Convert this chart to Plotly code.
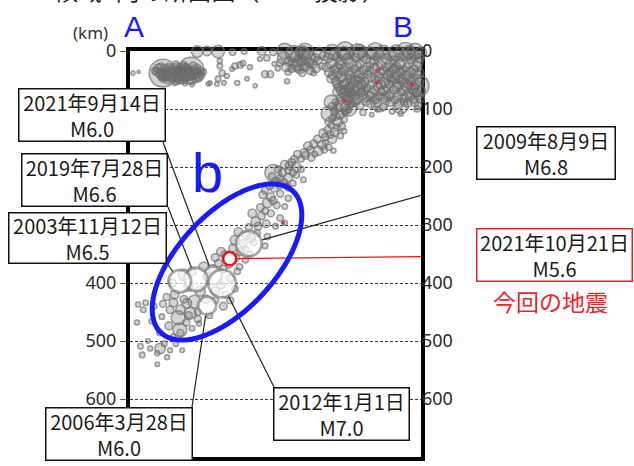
import numpy as np
import plotly.graph_objects as go

# hypocentres: (distance along A-B [km], depth [km], magnitude)
shallow_west = [
    (8, 38, 3.0), (18, 36, 2.6), (46, 34, 4.0), (52, 30, 4.5), (54, 38, 4.2), (58, 40, 4.8),
    (60, 38, 7.0), (60, 48, 4.0), (66, 44, 4.4), (68, 36, 4.8), (70, 28, 4.2), (72, 44, 4.6),
    (76, 48, 4.0), (78, 36, 4.4), (82, 24, 4.2), (84, 30, 4.8), (86, 46, 4.2), (88, 36, 5.0),
    (90, 50, 4.1), (92, 42, 5.8), (92, 38, 4.6), (96, 24, 4.0), (98, 29, 4.4), (100, 44, 4.5),
    (104, 40, 5.2), (106, 34, 4.3), (108, 34, 6.9), (108, 48, 4.6), (112, 26, 4.3), (114, 40, 4.6),
    (118, 30, 4.4), (120, 38, 4.5), (122, 46, 4.2), (126, 42, 4.0), (130, 36, 3.6), (80, 56, 3.0),
    (98, 56, 3.2), (110, 58, 3.0),
    (50, 36, 4.4), (56, 28, 4.4), (62, 42, 4.6), (64, 30, 4.4), (70, 38, 4.6), (74, 32, 4.4),
    (80, 42, 4.6), (82, 34, 4.4), (86, 40, 4.4), (90, 30, 4.6), (94, 46, 4.4), (96, 34, 4.6),
    (102, 30, 4.4), (102, 38, 4.6), (110, 42, 4.4), (112, 34, 4.6), (116, 46, 4.4), (118, 36, 4.4),
    (124, 34, 4.2), (68, 50, 4.2), (84, 52, 4.0), (58, 44, 4.4),
]
shallow_mid = [
    (158, 26, 3.6), (162, 38, 3.8), (158, 17, 3.4), (155, 48, 3.6), (165, 55, 3.2), (184, 26, 3.8),
    (193, 24, 3.8), (198, 21, 3.6), (170, 43, 3.4), (153, 57, 3.2), (138, 57, 3.0), (188, 55, 3.4),
    (205, 48, 3.2), (239, 12, 3.8), (236, 40, 4.0), (245, 40, 4.0), (274, 52, 3.4), (141, 55, 3.0),
    (179, 31, 3.2), (210, 28, 3.4), (219, 60, 3.0), (227, 14, 3.2), (262, 20, 4.0), (268, 12, 5.2),
    (272, 28, 4.4), (278, 18, 4.6), (282, 30, 4.2), (288, 10, 4.8), (290, 24, 5.0), (296, 32, 4.4),
    (300, 16, 4.6), (306, 26, 4.8), (310, 12, 5.5), (314, 34, 4.2), (318, 22, 4.6), (324, 30, 4.4),
    (328, 16, 4.2), (334, 26, 4.0), (276, 36, 3.8), (300, 38, 4.0), (320, 38, 3.6), (286, 5, 5.8),
    (304, 4, 5.0), (258, 30, 3.4), (252, 22, 3.2),
    (284, 20, 4.4), (294, 14, 4.4), (302, 26, 4.4), (312, 20, 4.6), (292, 30, 4.2), (322, 12, 4.4),
]
surface_row = [
    (119, 1, 5.0), (136, 0, 4.6), (155, 1, 5.2), (230, 0, 4.4), (270, 0, 5.6), (305, 1, 5.8),
    (374, 0, 6.0), (400, 1, 5.4), (426, 0, 5.8), (478, 1, 6.0), (495, 0, 5.6), (180, 2, 3.8),
    (200, 1, 3.6), (250, 2, 4.0),
]
shallow_east = [
    (300, 3, 5.4), (330, 4, 5.0), (352, 2, 5.6), (372, 3, 5.2), (395, 2, 5.8), (418, 3, 5.0),
    (440, 2, 5.4), (462, 3, 5.6), (484, 2, 5.2), (505, 3, 5.0),
    (345, 12, 4.6), (360, 10, 4.4), (378, 14, 4.8), (392, 11, 4.4), (410, 13, 4.6), (428, 10, 4.2),
    (446, 14, 4.8), (470, 11, 4.4), (488, 13, 4.6), (503, 12, 4.4),
    (350, 22, 4.6), (366, 24, 4.4), (384, 21, 4.8), (400, 23, 4.2), (418, 20, 4.6), (436, 24, 4.4),
    (452, 21, 4.6), (468, 23, 4.8), (484, 22, 4.4), (500, 20, 4.6), (510, 26, 4.2),
    (356, 32, 4.4), (372, 34, 4.6), (390, 31, 4.2), (406, 33, 4.4), (424, 30, 4.8), (440, 34, 4.4),
    (458, 31, 4.6), (474, 33, 4.2), (492, 32, 4.6), (506, 34, 4.4),
    (352, 42, 4.2), (368, 44, 4.6), (382, 41, 4.4), (398, 43, 4.8), (414, 40, 4.2), (432, 44, 4.4),
    (448, 41, 4.6), (462, 43, 4.2), (478, 42, 4.4), (496, 40, 4.8), (508, 44, 4.2),
    (358, 52, 4.4), (376, 54, 4.2), (392, 51, 4.6), (408, 53, 4.4), (426, 50, 4.2), (442, 54, 4.6),
    (456, 51, 4.4), (472, 53, 4.2), (488, 52, 4.6), (502, 54, 4.4),
    (362, 62, 4.2), (380, 64, 4.4), (396, 61, 4.6), (412, 63, 4.2), (430, 60, 4.4), (446, 64, 4.2),
    (464, 61, 4.6), (480, 63, 4.4), (494, 62, 4.2), (508, 64, 4.6),
    (370, 72, 4.4), (386, 74, 4.2), (402, 71, 4.4), (420, 73, 4.6), (436, 70, 4.2), (452, 74, 4.4),
    (470, 71, 4.2), (484, 73, 4.6), (498, 72, 4.4), (510, 76, 4.2),
    (378, 82, 4.2), (394, 84, 4.4), (410, 81, 4.2), (426, 83, 4.4), (444, 80, 4.6), (460, 84, 4.2),
    (476, 81, 4.4), (492, 83, 4.2), (504, 82, 4.4),
    (384, 92, 4.0), (400, 94, 4.2), (418, 91, 4.4), (440, 96, 4.0), (466, 93, 4.2), (482, 90, 4.4),
    (500, 94, 4.0), (380, 102, 3.6), (405, 106, 3.8), (430, 101, 3.4), (455, 104, 3.6),
    (498, 100, 3.8), (420, 110, 3.2), (470, 108, 3.4),
    (392, 60, 6.2), (462, 40, 6.0), (500, 60, 6.4), (434, 89, 6.0), (350, 88, 5.4), (470, 95, 5.6),
    (338, 8, 4.6), (356, 6, 4.8), (366, 16, 4.6), (382, 6, 4.4), (404, 8, 4.8), (424, 16, 4.4),
    (434, 6, 4.6), (452, 8, 4.8), (458, 16, 4.4), (476, 6, 4.6), (494, 8, 4.8), (510, 16, 4.4),
    (342, 28, 4.4), (360, 28, 4.6), (376, 27, 4.4), (394, 26, 4.6), (412, 27, 4.4), (430, 27, 4.6),
    (446, 28, 4.4), (462, 27, 4.6), (480, 28, 4.4), (498, 27, 4.6),
    (346, 37, 4.4), (362, 38, 4.6), (380, 36, 4.4), (398, 37, 4.6), (416, 36, 4.4), (434, 38, 4.6),
    (450, 36, 4.4), (468, 37, 4.6), (486, 36, 4.4), (502, 38, 4.6),
    (350, 48, 4.4), (366, 47, 4.6), (384, 48, 4.4), (400, 47, 4.6), (418, 46, 4.4), (434, 48, 4.6),
    (452, 47, 4.4), (470, 48, 4.6), (486, 47, 4.4), (506, 48, 4.6),
    (360, 57, 4.4), (372, 58, 4.6), (388, 57, 4.4), (404, 58, 4.6), (420, 57, 4.4), (436, 58, 4.6),
    (450, 57, 4.4), (466, 58, 4.6), (482, 57, 4.4), (496, 58, 4.6),
    (366, 67, 4.4), (374, 68, 4.6), (390, 67, 4.4), (406, 68, 4.6), (424, 67, 4.4), (440, 68, 4.6),
    (458, 67, 4.4), (474, 68, 4.6), (490, 67, 4.4), (504, 68, 4.6),
    (374, 78, 4.4), (390, 78, 4.6), (404, 77, 4.4), (418, 78, 4.6), (434, 77, 4.4), (450, 78, 4.6),
    (466, 77, 4.4), (486, 78, 4.6), (500, 77, 4.4),
    (392, 88, 4.4), (410, 87, 4.4), (430, 90, 4.2), (452, 88, 4.4), (476, 88, 4.2), (494, 88, 4.4),
    (508, 90, 4.2),
]
slab = [
    (360, 70, 4.4), (372, 66, 4.0), (382, 72, 4.6), (366, 80, 4.2), (378, 84, 4.8), (358, 88, 4.0),
    (370, 92, 5.6), (386, 90, 4.2), (352, 96, 4.4), (380, 98, 5.8),
    (356, 104, 4.2), (366, 110, 4.4), (374, 106, 3.8), (352, 116, 4.0), (362, 122, 4.6),
    (372, 118, 4.0), (350, 128, 3.8), (368, 130, 4.2), (346, 108, 5.6),
    (344, 136, 4.2), (356, 140, 4.4), (366, 146, 3.8), (340, 148, 4.0), (352, 152, 4.4), (372, 138, 3.6),
    (320, 160, 4.2), (334, 162, 4.4), (346, 166, 3.8), (314, 170, 4.0), (328, 172, 4.6),
    (340, 158, 3.6), (354, 172, 3.4),
    (292, 178, 4.2), (304, 176, 4.4), (316, 184, 4.0), (298, 186, 3.8), (322, 178, 3.6),
    (270, 196, 4.4), (282, 192, 4.2), (290, 200, 4.6), (276, 206, 4.0), (298, 204, 3.8),
    (266, 210, 4.2), (250, 210, 5.8),
    (248, 216, 4.0), (262, 220, 4.2), (276, 218, 4.4), (290, 214, 3.8), (302, 222, 3.6), (254, 224, 4.0),
    (244, 232, 4.2), (262, 230, 4.4), (276, 236, 3.8), (236, 240, 4.0),
    (232, 248, 4.2), (246, 252, 4.4), (262, 246, 4.0), (276, 254, 3.8), (240, 262, 4.6),
    (256, 266, 4.0), (228, 270, 4.2), (270, 268, 3.6),
    (214, 280, 4.4), (230, 284, 4.2), (246, 280, 4.0), (262, 288, 3.8), (220, 294, 4.6),
    (238, 298, 4.2), (254, 302, 3.6), (208, 304, 4.0), (270, 296, 3.4),
    (190, 312, 4.4), (204, 318, 4.2), (222, 314, 4.0), (240, 320, 3.8), (184, 326, 4.6),
    (198, 332, 4.2), (216, 330, 4.0), (236, 336, 3.6), (180, 340, 4.2), (202, 342, 4.0),
    (160, 346, 4.4), (150, 356, 4.2), (168, 352, 4.6), (186, 356, 4.0), (202, 360, 3.8),
    (156, 366, 4.2), (174, 368, 4.0), (192, 372, 3.8), (146, 376, 4.4), (210, 350, 3.6),
    (130, 372, 4.6), (110, 380, 4.4), (96, 386, 5.0), (76, 400, 4.2), (104, 406, 4.6),
    (124, 414, 4.8), (150, 414, 4.4), (168, 420, 4.0), (184, 410, 3.8), (80, 420, 4.4),
    (96, 428, 4.2), (114, 432, 5.2), (150, 430, 4.0), (164, 440, 4.2), (120, 450, 4.0),
    (90, 446, 4.6), (140, 456, 3.8), (176, 392, 4.2), (188, 380, 3.8),
    (107, 452, 5.0), (89, 481, 5.4), (101, 435, 4.6),
    (362, 96, 4.4), (376, 102, 4.2), (358, 112, 4.4), (346, 122, 4.2), (360, 132, 4.0),
    (336, 142, 4.4), (348, 144, 4.2), (326, 152, 4.2), (338, 170, 4.0), (310, 164, 4.4),
    (306, 180, 4.2), (286, 186, 4.0), (278, 198, 4.4), (284, 210, 4.0), (258, 204, 4.0),
    (268, 226, 4.2), (252, 236, 4.4), (284, 228, 3.8), (250, 258, 4.2), (236, 276, 4.0),
    (224, 302, 4.2), (212, 322, 4.4), (194, 346, 4.2), (180, 360, 4.4), (164, 376, 4.2),
    (138, 390, 4.4), (160, 404, 4.2), (134, 428, 4.4), (176, 430, 4.0), (104, 456, 4.2),
    (120, 462, 4.0), (78, 434, 4.4), (66, 424, 4.0),
]
deep_scatter = [
    (30, 434, 3.6), (44, 440, 3.8), (60, 436, 4.0), (72, 446, 4.2), (86, 460, 5.4), (58, 458, 3.6),
    (100, 468, 4.0), (40, 466, 3.4), (70, 474, 4.2), (110, 478, 3.6), (90, 486, 4.0), (122, 470, 3.4),
    (54, 486, 3.6), (78, 492, 3.4), (17, 437, 3.4), (26, 446, 3.6), (15, 468, 3.4), (21, 509, 3.6),
    (38, 513, 3.4), (50, 521, 3.4), (55, 513, 4.8), (72, 516, 3.4), (93, 516, 3.2), (50, 540, 3.2),
    (24, 524, 3.6), (67, 528, 3.4), (34, 500, 3.2), (62, 505, 3.6), (82, 505, 3.4),
]
recent_small = [(429, 34), (429, 55), (489, 57), (374, 86), (274, 229), (267, 296)]

# labelled large earthquakes: (date, magnitude, distance, depth)
events = [
    ("2021年9月14日", 6.0, 146, 387),
    ("2019年7月28日", 6.6, 117, 394),
    ("2003年11月12日", 6.5, 89, 397),
    ("2006年3月28日", 6.0, 136, 439),
    ("2012年1月1日", 7.0, 162, 401),
    ("2009年8月9日", 6.8, 208, 332),
]
latest = ("2021年10月21日", 5.6, 175, 358)

depth_ticks = [0, 100, 200, 300, 400, 500, 600, 700]

# ---- layout helpers (pixel geometry of the plot frame) ----
W, H = 634, 466
L, R, T, B = 130, 421, 51, 457
XR = [3, 505]
YR = [700, 0]


def msize(m):
    return 2 + 0.075 * m ** 3


def to_px(x, d):
    return L + (x - XR[0]) * (R - L) / (XR[1] - XR[0]), T + d * (B - T) / 700


def to_data(px, py):
    return XR[0] + (px - L) * (XR[1] - XR[0]) / (R - L), (py - T) * 700 / (B - T)


def paper(px, py):
    return (px - L) / (R - L), (B - py) / (B - T)


bg = shallow_west + shallow_mid + surface_row + shallow_east + slab + deep_scatter

fig = go.Figure()
fig.add_trace(go.Scatter(
    x=[p[0] for p in bg], y=[p[1] for p in bg], mode="markers",
    marker=dict(symbol="circle", size=[msize(p[2]) for p in bg],
                color="rgba(100,100,100,0.38)",
                line=dict(width=1.6, color="#707070")),
    cliponaxis=False, hoverinfo="skip", showlegend=False))
fig.add_trace(go.Scatter(
    x=[p[0] for p in recent_small], y=[p[1] for p in recent_small], mode="markers",
    marker=dict(symbol="circle", size=4, color="#d8344e"),
    cliponaxis=False, hoverinfo="skip", showlegend=False))
fig.add_trace(go.Scatter(
    x=[e[2] for e in events], y=[e[3] for e in events], mode="markers",
    marker=dict(symbol="circle", size=[msize(e[1]) for e in events], color="white",
                line=dict(width=2.8, color="#858585")),
    cliponaxis=False, hoverinfo="skip", showlegend=False))
fig.add_trace(go.Scatter(
    x=[latest[2]], y=[latest[3]], mode="markers",
    marker=dict(symbol="circle", size=msize(latest[1]) - 2, color="white",
                line=dict(width=2.6, color="#e8141c")),
    cliponaxis=False, hoverinfo="skip", showlegend=False))
# dummy trace so the right-hand depth axis is drawn
fig.add_trace(go.Scatter(x=[XR[0]], y=[0], yaxis="y2", mode="markers",
                         marker=dict(opacity=0), hoverinfo="skip", showlegend=False))

# label boxes: centre px, width, height, corner where the leader starts
boxes = [
    ((91.5, 115), 148, 54, (163, 142)),
    ((94.5, 180), 147, 54, (168, 207)),
    ((87.5, 238), 159, 52, (166, 262)),
    ((119, 434), 148, 54, (192, 407)),
    ((341.5, 414), 137, 54, (274, 387)),
    ((546, 153), 140, 54, (476, 180)),
]
latest_box = ((554.5, 255), 157, 54, (476, 256))

shapes = []
annotations = []


def leader(ev, box, color):
    cx, cy = to_px(ev[2], ev[3])
    sx, sy = box[3]
    dx, dy = sx - cx, sy - cy
    n = (dx * dx + dy * dy) ** 0.5
    r = msize(ev[1]) / 2 + 1
    ex, ey = cx + dx / n * r, cy + dy / n * r
    x0, y0 = to_data(sx, sy)
    x1, y1 = to_data(ex, ey)
    shapes.append(dict(type="line", xref="x", yref="y", x0=x0, y0=y0, x1=x1, y1=y1,
                       line=dict(color=color, width=1.2), layer="above"))


def label(ev, box, color):
    (bx, by), w, h, _ = box
    px_, py_ = paper(bx, by)
    annotations.append(dict(
        x=px_, y=py_, xref="paper", yref="paper", xanchor="center", yanchor="middle",
        text=f"{ev[0]}<br>M{ev[1]:.1f}", showarrow=False, align="center",
        width=w - 3, height=h - 3, borderpad=0, bgcolor="white",
        bordercolor=color, borderwidth=1.5,
        font=dict(family="Noto Sans CJK JP", size=20, color="#1a1a1a")))


for ev, bx in zip(events, boxes):
    leader(ev, bx, "#222222")
for ev, bx in zip(events, boxes):
    label(ev, bx, "#111111")
leader(latest, latest_box, "#e8141c")
label(latest, latest_box, "#d42a2a")

# blue ellipse around the deep cluster
cx, cy = to_data(227, 262)
a, b = 167, 83
ux, uy = 0.682, -0.731
vx, vy = 0.731, 0.682
t = np.linspace(0, 2 * np.pi, 90)
ex = cx + a * np.cos(t) * ux + b * np.sin(t) * vx
ey = cy + a * np.cos(t) * uy + b * np.sin(t) * vy
path = "M " + " L ".join(f"{x:.2f},{y:.2f}" for x, y in zip(ex, ey)) + " Z"
shapes.append(dict(type="path", xref="x", yref="y", path=path,
                   line=dict(color="#1a1aff", width=5), layer="above"))


def text_at(px, py, txt, size, color, family="Liberation Sans", xanchor="center",
            yanchor="middle"):
    x, y = paper(px, py)
    annotations.append(dict(x=x, y=y, xref="paper", yref="paper", text=txt, showarrow=False,
                            xanchor=xanchor, yanchor=yanchor,
                            font=dict(family=family, size=size, color=color)))


text_at(550, 301, "今回の地震", 23, "#e8262b", family="Noto Sans CJK JP")
text_at(207, 172, "b", 56, "#1a1aff")
text_at(134, 26, "A", 30, "#1a1aff")
text_at(403, 26, "B", 30, "#1a1aff")
text_at(90, 33, "(km)", 17, "#333333", family="Noto Sans")
text_at(52, 9, "領域a内の断面図（A－B投影）", 24, "#222222",
        family="Noto Sans CJK JP", xanchor="left", yanchor="bottom")

axis_common = dict(range=YR, tickvals=depth_ticks, ticktext=[str(v) for v in depth_ticks],
                   tickfont=dict(family="Noto Sans", size=18, color="#2a2a2a"))

fig.update_layout(
    width=W, height=H,
    margin=dict(l=L, r=W - R, t=T, b=H - B, pad=0),
    paper_bgcolor="white", plot_bgcolor="white",
    showlegend=False,
    xaxis=dict(range=XR, showgrid=False, zeroline=False, showticklabels=False, ticks="",
               showline=True, linewidth=4, linecolor="black", mirror=True,
               layer="below traces"),
    yaxis=dict(**axis_common, showgrid=True, gridcolor="#333333", gridwidth=1,
               griddash="3px,2px", zeroline=False, showline=True, linewidth=4,
               linecolor="black", mirror=True, ticks="outside", ticklen=6,
               tickcolor="#555555", tickwidth=1, layer="below traces"),
    yaxis2=dict(**axis_common, overlaying="y", side="right", showgrid=False,
                zeroline=False, ticks="", showline=False),
    shapes=shapes,
    annotations=annotations,
)

# the page should start at the window's corner, like the reference image
fig.write_html("out.html", config={"displayModeBar": False},
               post_script="document.body.style.margin='0';")
